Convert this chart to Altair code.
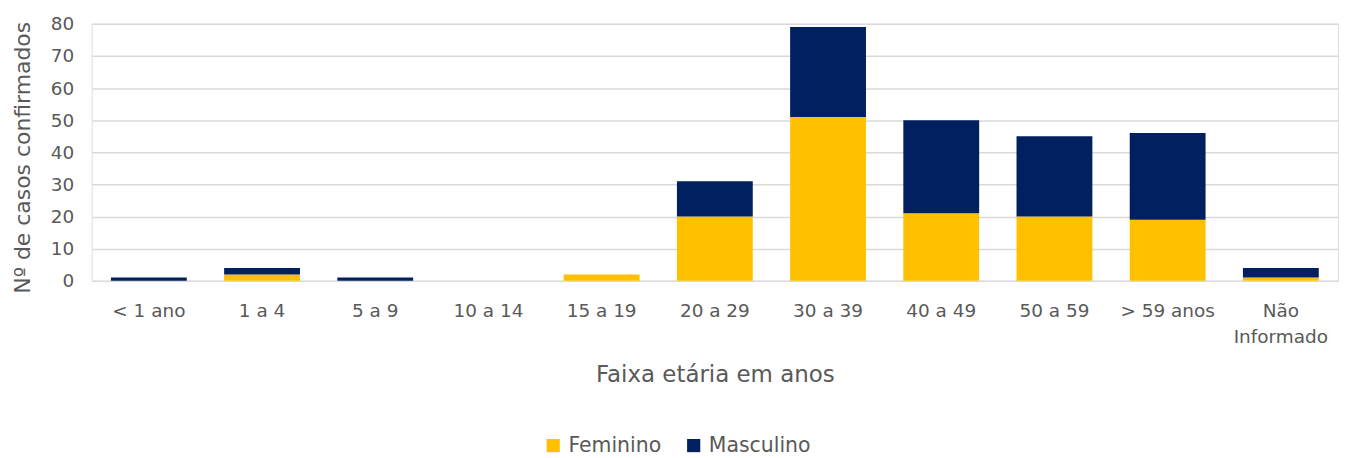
import altair as alt
import pandas as pd

categorias = ["< 1 ano", "1 a 4", "5 a 9", "10 a 14", "15 a 19", "20 a 29",
              "30 a 39", "40 a 49", "50 a 59", "> 59 anos", "Não Informado"]
feminino = [0, 2, 0, 0, 2, 20, 51, 21, 20, 19, 1]
masculino = [1, 2, 1, 0, 0, 11, 28, 29, 25, 27, 3]
series = ["Feminino", "Masculino"]
cores = ["#FFC000", "#002060"]

rows = []
for i, c in enumerate(categorias):
    rows.append({"faixa": c, "sexo": "Feminino", "casos": feminino[i], "ordem": 0})
    rows.append({"faixa": c, "sexo": "Masculino", "casos": masculino[i], "ordem": 1})
df = pd.DataFrame(rows)

font = "DejaVu Sans"
gray = "#595959"

chart = alt.Chart(df).mark_bar().encode(
    x=alt.X("faixa:N", sort=categorias, title="Faixa etária em anos",
            scale=alt.Scale(paddingInner=0.33, paddingOuter=0.17),
            axis=alt.Axis(labelAngle=0, labelFontSize=18.5, labelColor=gray, labelFont=font,
                          labelPadding=21, labelLineHeight=26, ticks=False, domain=False,
                          titleFontSize=23, titleColor=gray, titleFont=font,
                          titleFontWeight="normal", titlePadding=18,
                          labelExpr="datum.label == 'Não Informado' ? ['Não', 'Informado'] : datum.label")),
    y=alt.Y("casos:Q", stack="zero", title="Nº de casos confirmados",
            scale=alt.Scale(domain=[0, 80]),
            axis=alt.Axis(values=list(range(0, 81, 10)), labelFontSize=18.5, labelColor=gray,
                          labelFont=font, ticks=False, domain=False, gridColor="#d9d9d9",
                          gridWidth=1.5, labelPadding=18, titleFontSize=22, titleColor=gray,
                          titleFont=font, titleFontWeight="normal", titlePadding=16,
                          titleY=134)),
    color=alt.Color("sexo:N", scale=alt.Scale(domain=series, range=cores),
                    legend=alt.Legend(orient="none", legendX=453, legendY=413,
                                      direction="horizontal", title=None,
                                      symbolType="square", symbolSize=175, symbolStrokeWidth=0,
                                      labelFontSize=20.5, labelColor=gray, labelFont=font,
                                      columnPadding=22, labelOffset=5)),
    order=alt.Order("ordem:Q"),
).properties(width=1251, height=258, padding={"top": 6, "left": 3, "right": 3, "bottom": 0}
).configure_view(stroke=None).configure(background="white")

chart.save("out.html", embed_options={"renderer": "svg", "actions": False})
